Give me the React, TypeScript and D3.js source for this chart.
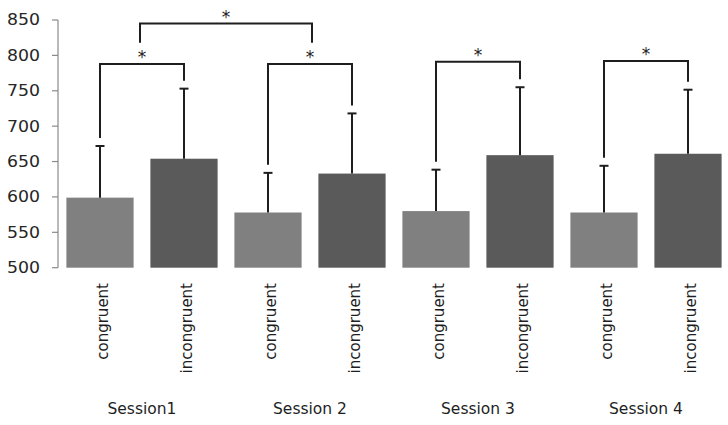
import * as d3 from "d3";

const sessions = ["Session1", "Session 2", "Session 3", "Session 4"];
const conditions = ["congruent", "incongruent"];
const congruentMeans = [599, 578, 580, 578];
const incongruentMeans = [654, 633, 659, 661];
const congruentErr = [73, 56, 58.5, 66];
const incongruentErr = [99, 85, 96, 90.5];
const withinLevels = [788, 788, 791, 792]; // height of the congruent/incongruent bracket
const betweenPair = [0, 1]; // sessions joined by the top bracket
const betweenLevel = 845;
const betweenLegLevel = 818;
const yTicks = [500, 550, 600, 650, 700, 750, 800, 850];

const W = 728;
const H = 425;

export default function App() {
  // one slot per bar
  const slots = sessions.flatMap((s, i) =>
    conditions.map((c, j) => ({
      key: `${i}-${j}`,
      session: i,
      cond: c,
      mean: j === 0 ? congruentMeans[i] : incongruentMeans[i],
      err: j === 0 ? congruentErr[i] : incongruentErr[i],
    }))
  );

  const x = d3
    .scaleBand<string>()
    .domain(slots.map((d) => d.key))
    .range([58, 730])
    .paddingInner(0.2)
    .paddingOuter(0.1);
  const y = d3.scaleLinear().domain([500, 850]).range([267.7, 20]);

  const cx = (k: string) => (x(k) ?? 0) + x.bandwidth() / 2;
  const gap = 8; // px between error cap and bracket leg
  const capW = 9;

  const within = sessions.map((s, i) => {
    const a = slots[i * 2];
    const b = slots[i * 2 + 1];
    return {
      x1: cx(a.key),
      x2: cx(b.key),
      y1: y(a.mean + a.err) - gap,
      y2: y(b.mean + b.err) - gap,
      top: y(withinLevels[i]),
    };
  });

  const starY = (lvl: number) => y(lvl) - 1;
  const wa = within[betweenPair[0]];
  const wb = within[betweenPair[1]];
  const bx1 = (wa.x1 + wa.x2) / 2 - 2;
  const bx2 = (wb.x1 + wb.x2) / 2 + 2;

  const font = "'DejaVu Sans', Verdana, sans-serif";
  const ink = "#1e1e1e";

  return (
    <svg
      width={W}
      height={H}
      style={{ position: "absolute", left: 0, top: 0, background: "#fff" }}
      fontFamily={font}
    >
      {/* y axis */}
      <line x1={58} x2={58} y1={y(850)} y2={y(500)} stroke="#8a8a8a" strokeWidth={1.2} />
      {yTicks.map((t) => (
        <g key={t}>
          <line x1={52} x2={58} y1={y(t)} y2={y(t)} stroke="#8a8a8a" strokeWidth={1.2} />
          <text
            x={40}
            y={y(t)}
            dy="0.36em"
            textAnchor="end"
            fontSize={15}
            fill="#262626"
            textLength={33}
            lengthAdjust="spacingAndGlyphs"
          >
            {t}
          </text>
        </g>
      ))}

      {/* bars */}
      {slots.map((d) => (
        <rect
          key={d.key}
          x={x(d.key)}
          y={y(d.mean)}
          width={x.bandwidth()}
          height={y(500) - y(d.mean)}
          fill={d.cond === "congruent" ? "#808080" : "#5a5a5a"}
        />
      ))}

      {/* error bars, upper only */}
      {slots.map((d) => (
        <g key={"e" + d.key} stroke={ink} strokeWidth={2}>
          <line x1={cx(d.key)} x2={cx(d.key)} y1={y(d.mean)} y2={y(d.mean + d.err)} />
          <line
            x1={cx(d.key) - capW / 2}
            x2={cx(d.key) + capW / 2}
            y1={y(d.mean + d.err)}
            y2={y(d.mean + d.err)}
          />
        </g>
      ))}

      {/* within-session brackets */}
      {within.map((b, i) => (
        <g key={"b" + i}>
          <path
            d={`M${b.x1},${b.y1}V${b.top}H${b.x2}V${b.y2}`}
            fill="none"
            stroke={ink}
            strokeWidth={2}
          />
          <text
            x={(b.x1 + b.x2) / 2}
            y={starY(withinLevels[i])}
            textAnchor="middle"
            fontSize={17}
            fill="#222"
          >
            *
          </text>
        </g>
      ))}

      {/* between-session bracket */}
      <path
        d={`M${bx1},${y(betweenLegLevel)}V${y(betweenLevel)}H${bx2}V${y(betweenLegLevel)}`}
        fill="none"
        stroke={ink}
        strokeWidth={2}
      />
      <text
        x={(bx1 + bx2) / 2}
        y={starY(betweenLevel)}
        textAnchor="middle"
        fontSize={17}
        fill="#222"
      >
        *
      </text>

      {/* condition labels */}
      {slots.map((d) => (
        <text
          key={"l" + d.key}
          transform={`translate(${cx(d.key) + 3},283) rotate(-90)`}
          textAnchor="end"
          dy="0.35em"
          fontSize={15}
          fill={ink}
        >
          {d.cond}
        </text>
      ))}

      {/* session labels */}
      {sessions.map((s, i) => (
        <text
          key={s}
          x={(cx(slots[i * 2].key) + cx(slots[i * 2 + 1].key)) / 2}
          y={414}
          textAnchor="middle"
          fontSize={15.5}
          fill={ink}
        >
          {s}
        </text>
      ))}
    </svg>
  );
}
